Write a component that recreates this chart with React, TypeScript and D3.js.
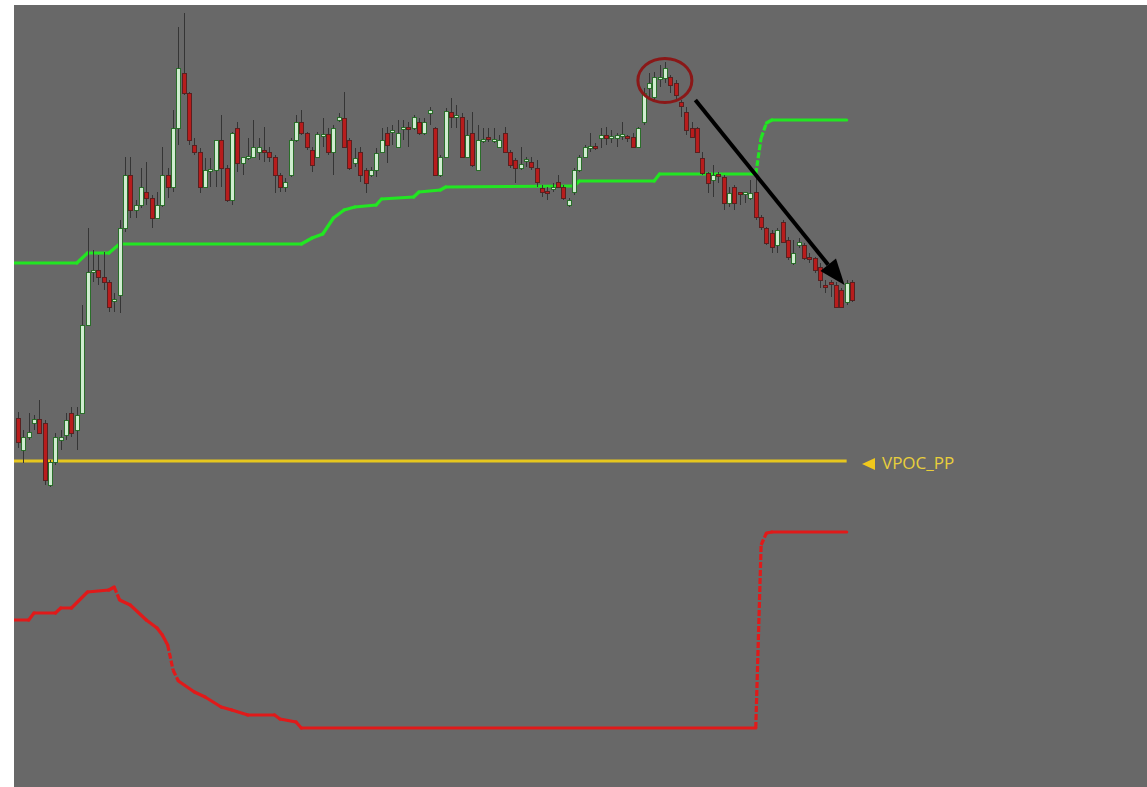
import React from 'react';
import * as d3 from 'd3';

// Prices are in points (1 pt = 0.0001) above 1.1000
const opens = [582,550,563,577,581,577,515,538,560,565,587,570,587,675,728,730,723,718,699,705,772,825,790,795,808,802,782,795,825,813,872,927,907,855,848,813,829,830,860,832,800,872,837,842,843,848,850,848,843,825,813,825,860,878,867,850,843,864,866,848,880,882,860,837,848,830,825,830,848,867,868,853,871,873,872,878,867,887,872,825,843,888,883,883,843,867,830,859,863,859,853,867,848,840,832,839,838,832,812,809,811,818,813,795,808,830,843,852,854,862,865,862,862,864,864,863,853,878,912,903,921,922,923,917,898,888,872,872,842,827,820,826,823,797,813,808,806,802,808,783,772,767,755,778,760,737,755,755,743,742,733,715,718,715,710,698,718];
const closes = [558,563,568,581,567,520,538,563,563,580,567,585,675,728,730,723,718,693,701,772,825,790,795,813,802,782,795,825,813,872,932,907,860,848,813,830,831,860,832,800,867,837,843,844,853,853,848,843,825,813,818,860,878,867,853,835,866,866,848,872,883,853,832,842,825,817,830,847,860,855,870,867,873,871,883,867,878,890,825,843,889,883,885,843,865,835,860,861,861,861,860,848,835,832,836,841,833,818,808,807,813,813,802,800,830,843,853,854,852,865,862,864,865,866,862,853,872,907,917,923,923,932,915,905,894,870,863,848,827,817,825,824,797,807,797,806,808,807,783,773,757,753,770,758,743,747,758,742,741,730,720,713,716,693,693,717,700];
const highs = [588,570,587,585,600,580,540,567,570,587,593,593,695,772,750,745,748,720,707,780,843,843,800,832,838,805,808,853,832,890,973,987,908,862,852,842,842,860,885,835,868,878,843,862,880,862,873,853,845,827,822,862,885,890,868,853,868,882,872,875,887,908,862,852,853,832,833,852,872,873,875,880,880,878,885,882,882,893,873,845,892,902,895,887,880,888,875,872,872,872,865,873,850,842,853,843,843,840,815,813,817,825,815,802,832,845,855,867,857,872,873,870,867,878,865,867,873,912,927,928,935,938,925,920,900,893,878,873,848,828,835,828,825,813,815,808,808,820,822,785,773,770,772,780,763,760,762,757,747,743,737,720,720,718,712,720,720];
const lows = [552,537,560,570,567,515,513,535,550,560,563,550,587,675,718,715,710,688,688,687,768,782,782,792,795,772,782,793,802,808,855,905,855,845,807,812,813,813,813,798,795,828,825,840,842,840,838,838,807,808,808,823,858,865,850,828,842,853,845,825,878,852,830,833,818,807,823,823,847,837,855,852,860,853,870,865,865,875,825,823,842,872,872,842,842,833,830,857,858,857,852,847,832,817,830,833,830,813,803,800,808,812,800,793,805,828,842,848,850,852,855,857,853,860,858,852,853,875,903,898,913,917,907,900,883,865,862,847,825,807,803,817,790,793,790,795,797,800,780,770,755,747,747,757,740,735,752,740,737,727,712,707,703,692,692,695,698];

// Green upper band: bar index -> level
const greenIdx = [-1, 11, 13, 17, 19, 53, 55, 57, 59, 61, 63, 67, 68, 74, 75, 79, 80, 104, 105, 119, 120, 138, 139, 140, 141, 155];
const greenVal = [737, 737, 747, 747, 756, 756, 762, 766, 782, 790, 793, 795, 801, 803, 808, 810, 813, 814, 819, 819, 826, 826, 862, 877, 880, 880];

// Red lower band: bar index -> level
const redIdx = [-1, 2, 3, 7, 8, 10, 13, 17, 18, 19, 21, 24, 26, 27, 28, 29, 30, 33, 35, 38, 40, 43, 48, 49, 52, 53, 138, 139, 140, 141, 155];
const redVal = [380, 380, 387, 387, 392, 392, 408, 410, 413, 400, 395, 380, 372, 365, 355, 330, 319, 308, 303, 293, 290, 285, 285, 281, 278, 272, 272, 455, 467, 468, 468];

// VPOC level
const vpocLevel = 539;
const vpocStart = -1;
const vpocEnd = 155;
const vpocLabel = 'VPOC_PP';

// Annotations (bar index, price)
const circleAt = [121, 919.5];
const arrowFrom = [126.7, 900];
const arrowTo = [154.6, 715];

const W = 1147;
const H = 787;
const plotLeft = 14;
const plotTop = 5;

export default function App() {
  const x = d3.scaleLinear().domain([0, opens.length - 1]).range([18, 852]);
  const y = d3.scaleLinear().domain([213, 995]).range([H, plotTop]);

  const segs = (idx: number[], val: number[]) =>
    idx.slice(1).map((i, k) => {
      const x1 = x(idx[k]), y1 = y(val[k]), x2 = x(i), y2 = y(val[k + 1]);
      const steep = Math.abs(y2 - y1) > 2 * Math.abs(x2 - x1);
      return { x1, y1, x2, y2, steep };
    });

  const green = segs(greenIdx, greenVal);
  const red = segs(redIdx, redVal);

  const ax1 = x(arrowFrom[0]), ay1 = y(arrowFrom[1]);
  const ax2 = x(arrowTo[0]), ay2 = y(arrowTo[1]);
  const ang = Math.atan2(ay2 - ay1, ax2 - ax1);
  const headLen = 26, headW = 10;
  const bx = ax2 - headLen * Math.cos(ang), by = ay2 - headLen * Math.sin(ang);
  const head = [
    [ax2, ay2],
    [bx + headW * Math.sin(ang), by - headW * Math.cos(ang)],
    [bx - headW * Math.sin(ang), by + headW * Math.cos(ang)],
  ];

  const lineCol = (s: any, col: string, key: string) => (
    <line key={key} x1={s.x1} y1={s.y1} x2={s.x2} y2={s.y2} stroke={col} strokeWidth={3.2}
      strokeLinecap={s.steep ? 'butt' : 'round'} strokeDasharray={s.steep ? '6 2' : undefined} />
  );

  const vy = y(vpocLevel);

  return (
    <svg width={W} height={H} style={{ position: 'absolute', left: 0, top: 0, display: 'block' }}>
      <defs>
        <clipPath id="plot">
          <rect x={plotLeft} y={plotTop} width={W - plotLeft} height={H - plotTop} />
        </clipPath>
      </defs>
      <rect x={0} y={0} width={W} height={H} fill="#ffffff" />
      <rect x={plotLeft} y={plotTop} width={W - plotLeft} height={H - plotTop} fill="#686868" />
      <g clipPath="url(#plot)">
        <line x1={x(vpocStart)} x2={x(vpocEnd)} y1={vy} y2={vy} stroke="#e6c61e" strokeWidth={3} />
        {red.map((s, k) => lineCol(s, '#e01a1a', 'r' + k))}
        {green.map((s, k) => lineCol(s, '#22e622', 'g' + k))}
        <g shapeRendering="crispEdges">
          {opens.map((o, i) => {
            const c = closes[i];
            const cx = Math.round(x(i));
            const bull = c >= o;
            const top = Math.round(y(Math.max(o, c)));
            const bot = Math.round(y(Math.min(o, c)));
            return (
              <g key={i}>
                <line x1={cx + 0.5} x2={cx + 0.5} y1={y(highs[i])} y2={y(lows[i])} stroke="#353535" strokeWidth={1} />
                <rect x={cx - 1.5} y={top + 0.5} width={4} height={Math.max(1, bot - top)}
                  fill={bull ? '#cfeccf' : '#b81c1c'} stroke={bull ? '#2a6e2a' : '#5a2020'} strokeWidth={1} />
              </g>
            );
          })}
        </g>
        <ellipse cx={x(circleAt[0])} cy={y(circleAt[1])} rx={27} ry={22} fill="none" stroke="#8a1818" strokeWidth={3} />
        <line x1={ax1} y1={ay1} x2={bx} y2={by} stroke="#000000" strokeWidth={4} />
        <polygon points={head.map(p => p.join(',')).join(' ')} fill="#000000" />
      </g>
      <polygon points={`862,${vy + 3} 875,${vy - 3} 875,${vy + 9}`} fill="#f0c81c" />
      <text x={882} y={vy + 8} fontFamily="'Open Sans', sans-serif" fontSize={17} fill="#e8cf3c">{vpocLabel}</text>
    </svg>
  );
}
